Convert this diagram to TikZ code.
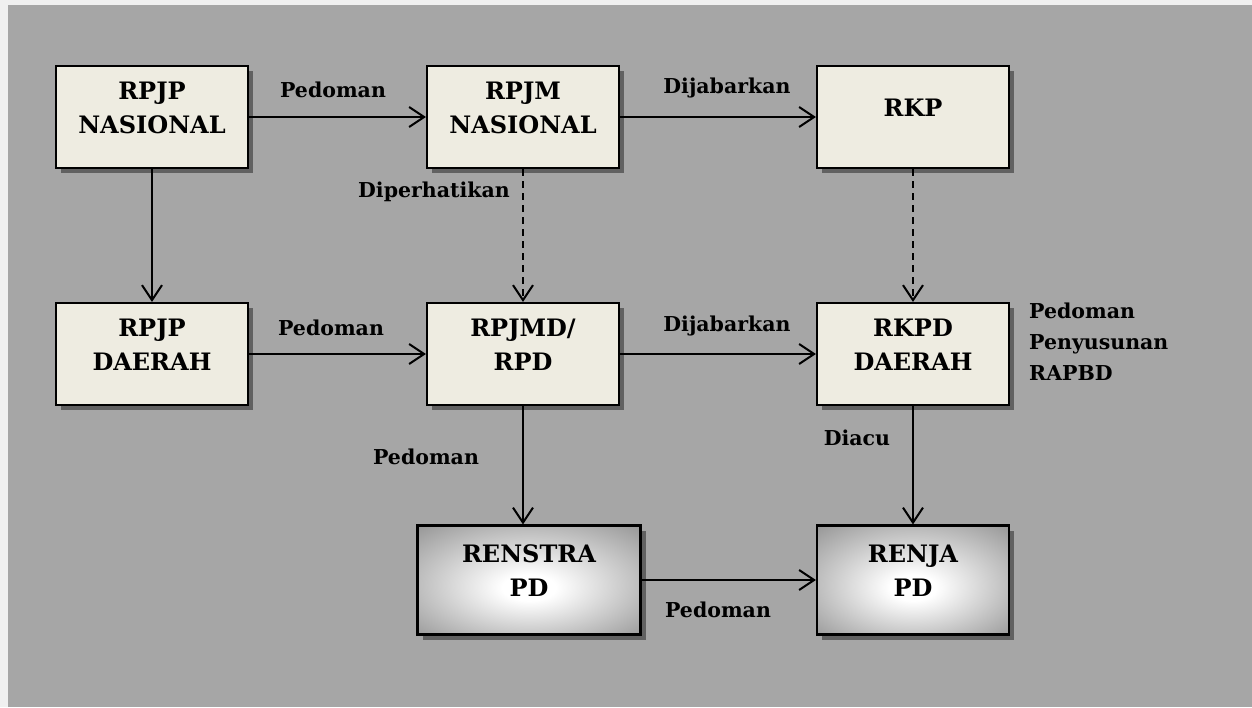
\documentclass[tikz,border=0pt]{standalone}
\usepackage{fontspec}
\setmainfont{DejaVu Serif}
\usetikzlibrary{shadows,arrows.meta}

\definecolor{backgray}{HTML}{A6A6A6}
\definecolor{cream}{HTML}{EEECE1}
\definecolor{edgegray}{HTML}{979797}
\pgfdeclareradialshading{boxglow}{\pgfpoint{0bp}{-4bp}}{color(0bp)=(white); color(6bp)=(white); color(36bp)=(edgegray); color(50bp)=(edgegray)}

\begin{document}
\begin{tikzpicture}[x=1pt,y=-1pt,
	box/.style={draw,line width=2.2pt,minimum width=192pt,minimum height=102pt,align=center,text depth=18pt,
		font=\fontsize{24}{34}\selectfont\bfseries,
		drop shadow={shadow xshift=5pt,shadow yshift=-5pt,fill=black!62,opacity=1}},
	plainbox/.style={box,fill=cream},
	glowbox/.style={box,minimum height=109pt,shading=boxglow},
	word/.style={font=\fontsize{20.5}{31}\selectfont\bfseries,inner sep=0pt},
	link/.style={line width=2pt,-{Straight Barb[length=15pt,width=20pt,line width=2pt]}},
	maybe/.style={link,dash pattern=on 7pt off 5pt}]
		\useasboundingbox (0,0) rectangle (1252,707);
		\fill[black!6] (0,0) rectangle (1252,707);
		\fill[backgray] (8,5) rectangle (1252,707);

		\path (152,117) node[plainbox] (rpjpn) {RPJP\\NASIONAL}
		(523,117) node[plainbox] (rpjmn) {RPJM\\NASIONAL}
		(913,117) node[plainbox] (rkp) {RKP}
		(152,354) node[plainbox] (rpjpd) {RPJP\\DAERAH}
		(523,354) node[plainbox] (rpjmd) {RPJMD/\\RPD}
		(913,354) node[plainbox] (rkpd) {RKPD\\DAERAH}
		(529,580) node[glowbox,minimum width=223pt] (renstra) {RENSTRA\\PD}
		(913,580) node[glowbox] (renja) {RENJA\\PD};

		\path (333,90) node[word] (w1) {Pedoman}
		(727,88) node[word] (w2) {Dijabarkan}
		(434,192) node[word] (w3) {Diperhatikan}
		(331,328) node[word] (w4) {Pedoman}
		(727,326) node[word] (w5) {Dijabarkan}
		(1029,342) node[word,anchor=west,align=left] (w6) {Pedoman\\Penyusunan\\RAPBD}
		(857,438) node[word] (w7) {Diacu}
		(426,457) node[word] (w8) {Pedoman}
		(718,610) node[word] (w9) {Pedoman};

		\draw[link] (rpjpn) -- (rpjmn);
		\draw[link] (rpjmn) -- (rkp);
		\draw[link] (rpjpn) -- (rpjpd);
		\draw[maybe] (rpjmn) -- (rpjmd);
		\draw[maybe] (rkp) -- (rkpd);
		\draw[link] (rpjpd) -- (rpjmd);
		\draw[link] (rpjmd) -- (rkpd);
		\draw[link] (rpjmd.south) -- (rpjmd.south |- renstra.north);
		\draw[link] (rkpd) -- (renja);
		\draw[link] (renstra) -- (renja);

	\end{tikzpicture}
\end{document}
